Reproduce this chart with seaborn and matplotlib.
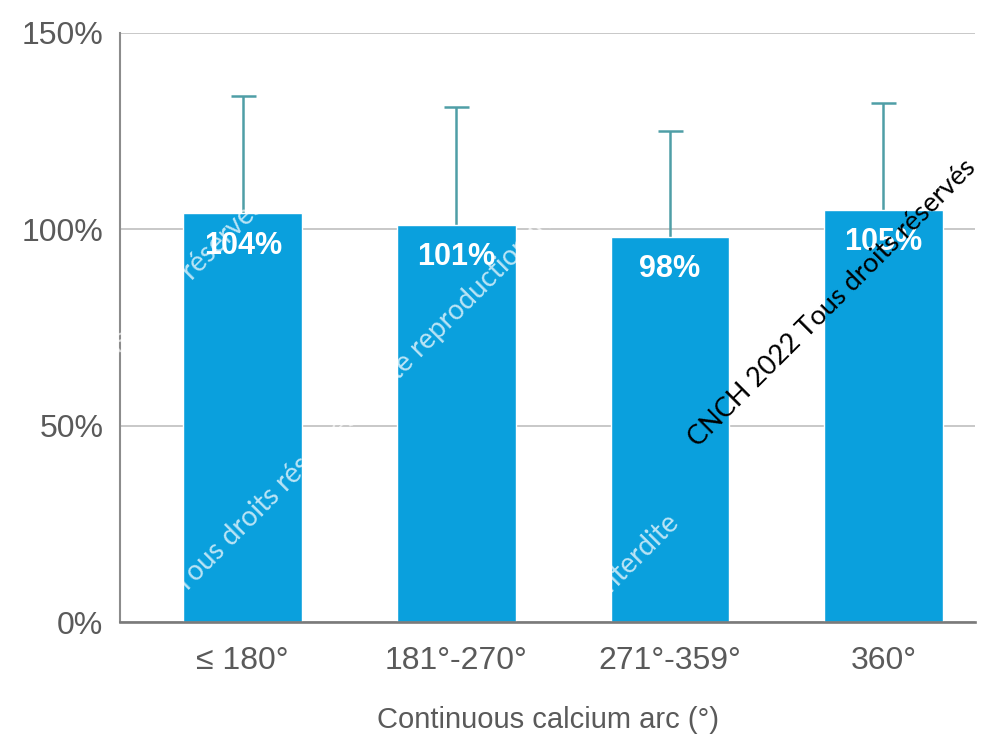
import matplotlib
matplotlib.use("Agg")
import matplotlib.pyplot as plt
import seaborn as sns
import pandas as pd
import numpy as np
from matplotlib.ticker import FuncFormatter

categories = ["≤ 180°", "181°-270°", "271°-359°", "360°"]
values = [104, 101, 98, 105]
upper_sd = [30, 30, 27, 27]
value_labels = ["104%", "101%", "98%", "105%"]
y_ticks = [0, 50, 100, 150]
x_title = "Continuous calcium arc (°)"

sns.set_theme(style="white")
plt.rcParams["font.family"] = ["Liberation Sans", "DejaVu Sans"]

bar_color = "#0aa0dd"
err_color = "#4f9ea6"
text_gray = "#5a5a5a"
wm_family = ["Lato", "Open Sans", "DejaVu Sans"]

df = pd.DataFrame({"arc": categories, "value": values})

fig = plt.figure(figsize=(9.83, 7.45), dpi=100)
ax = fig.add_axes([0.122, 0.165, 0.870, 0.791])

sns.barplot(data=df, x="arc", y="value", color=bar_color, saturation=1,
            width=0.555, errorbar=None, ax=ax, zorder=2)

# upper-only error bars (lower cap hidden)
pos = np.arange(len(categories))
_, caps, _ = ax.errorbar(pos, values, yerr=[np.zeros(len(values)), upper_sd],
                         fmt="none", ecolor=err_color, elinewidth=1.8,
                         capsize=9, capthick=1.8, zorder=1)
caps[0].set_visible(False)

for x, v, lab in zip(pos, values, value_labels):
    ax.text(x, v - 8.2, lab, ha="center", va="center", color="white",
            fontsize=22, fontweight="bold", zorder=4)

ax.set_ylim(0, 150)
ax.set_xlim(-0.575, 3.43)
ax.set_yticks(y_ticks)
ax.yaxis.set_major_formatter(FuncFormatter(lambda v, _: f"{v:.0f}%"))
ax.yaxis.grid(True, color="#c8c8c8", linewidth=1.4, zorder=0)
ax.set_axisbelow(True)

for side in ["top", "right"]:
    ax.spines[side].set_visible(False)
ax.spines["left"].set_color("#8c8c8c")
ax.spines["left"].set_linewidth(1.5)
ax.spines["bottom"].set_color("#7a7a7a")
ax.spines["bottom"].set_linewidth(1.9)

ax.tick_params(axis="y", labelsize=23, colors=text_gray, length=0, pad=12)
ax.tick_params(axis="x", labelsize=23, colors=text_gray, length=0, pad=17)
ax.set_xlabel(x_title, fontsize=21, color=text_gray, labelpad=22)
ax.set_ylabel("")

# copyright watermarks
fig.text(702 / 983, 1 - 452 / 745, "CNCH 2022 Tous droits réservés", rotation=45,
         rotation_mode="anchor", ha="left", va="bottom", fontsize=19.5,
         color="black", family=wm_family, zorder=10)
wm = dict(rotation=45, rotation_mode="anchor", va="bottom",
          fontsize=20, color="white", alpha=0.72, family=wm_family, zorder=10)
fig.text(188 / 983, 1 - 598 / 745,
         "Tous droits réservés Toute reproduction interdite", ha="left", **wm)
fig.text(268 / 983, 1 - 212 / 745, "Tous droits réservés", ha="right", **wm)
fig.text(684 / 983, 1 - 527 / 745, "interdite", ha="right", **wm)

fig.savefig("out.png", dpi=100, facecolor="white")
